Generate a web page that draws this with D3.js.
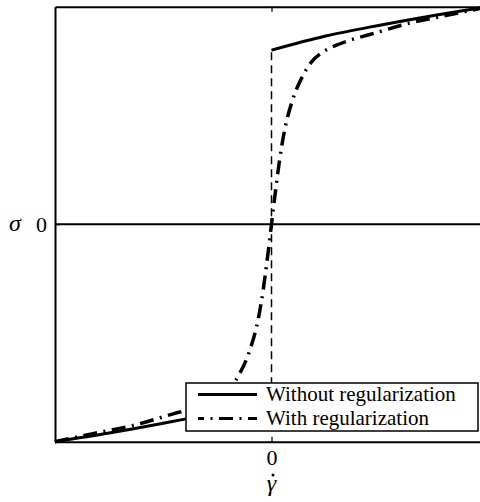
<!DOCTYPE html>
<html>
<head>
<meta charset="utf-8">
<script src="https://cdn.jsdelivr.net/npm/d3@7"></script>
<style>
  body { margin: 0; background: #fff; }
  svg { display: block; font-family: "Liberation Serif", "Times New Roman", serif; }
</style>
</head>
<body>
<div id="chart"></div>
<script>
// strain rate / stress
const rateReg = [-1, -0.81, -0.639, -0.454, -0.362, -0.30, -0.238, -0.185, -0.146, -0.097, -0.061, -0.038, -0.02, 0,
                 0.02, 0.038, 0.061, 0.097, 0.146, 0.185, 0.238, 0.30, 0.362, 0.454, 0.639, 0.81, 1]
const stressReg = [-1, -0.96, -0.925, -0.872, -0.846, -0.823, -0.792, -0.746, -0.685, -0.57, -0.435, -0.30, -0.165, 0,
                   0.165, 0.30, 0.435, 0.57, 0.685, 0.746, 0.792, 0.823, 0.846, 0.872, 0.925, 0.96, 1]

const rateNeg = [-1, -0.75, -0.5, -0.25, 0]
const stressNeg = [-1, -0.96, -0.915, -0.865, -0.80]
const ratePos = [0, 0.25, 0.5, 0.75, 1]
const stressPos = [0.80, 0.865, 0.915, 0.96, 1]
const jumpRate = [0, 0]
const jumpStress = [-0.80, 0.80]

const xTicks = [0]
const yTicks = [0]
const legendLabels = ["Without regularization", "With regularization"]

const width = 480, height = 502
const mLeft = 55, mRight = 488, mTop = 6.7, mBottom = 441.7
const dashDot = "14,6.5,2,6.5"

const svg = d3.select("#chart").append("svg")
  .attr("width", width)
  .attr("height", height)

const x = d3.scaleLinear().domain([-1, 1]).range([mLeft, mRight])
const y = d3.scaleLinear().domain([-1, 1]).range([mBottom, mTop])

const zip = (a, b) => a.map((v, i) => [v, b[i]])
const line = d3.line().x(d => x(d[0])).y(d => y(d[1]))
const smooth = d3.line().x(d => x(d[0])).y(d => y(d[1])).curve(d3.curveMonotoneX)

// zero line
svg.append("line")
  .attr("x1", x(-1)).attr("x2", x(1))
  .attr("y1", y(0)).attr("y2", y(0))
  .attr("stroke", "#000").attr("stroke-width", 2)

// without regularization
svg.append("path")
  .attr("d", line(zip(jumpRate, jumpStress)))
  .attr("fill", "none").attr("stroke", "#000")
  .attr("stroke-width", 1.5).attr("stroke-dasharray", "8,5")
;[zip(rateNeg, stressNeg), zip(ratePos, stressPos)].forEach(pts => {
  svg.append("path")
    .attr("d", smooth(pts))
    .attr("fill", "none").attr("stroke", "#000")
    .attr("stroke-width", 3)
})

// with regularization
svg.append("path")
  .attr("d", smooth(zip(rateReg, stressReg)))
  .attr("fill", "none").attr("stroke", "#000")
  .attr("stroke-width", 3.5).attr("stroke-dasharray", dashDot)

// axes: ticks inward, frame
const xAxisB = d3.axisBottom(x).tickValues(xTicks).tickSizeInner(-5).tickSizeOuter(0).tickPadding(8).tickFormat(d3.format("d"))
const xAxisT = d3.axisTop(x).tickValues(xTicks).tickSizeInner(-5).tickSizeOuter(0).tickFormat("")
const yAxisL = d3.axisLeft(y).tickValues(yTicks).tickSizeInner(-5).tickSizeOuter(0).tickPadding(8).tickFormat(d3.format("d"))

const gB = svg.append("g").attr("transform", `translate(0,${mBottom})`).call(xAxisB)
const gT = svg.append("g").attr("transform", `translate(0,${mTop})`).call(xAxisT)
const gL = svg.append("g").attr("transform", `translate(${mLeft},0)`).call(yAxisL)
;[gB, gT, gL].forEach(g => {
  g.attr("font-family", null)
  g.select(".domain").attr("stroke-width", 2)
  g.selectAll(".tick line").attr("stroke-width", 1.2)
  g.selectAll("text").attr("font-size", 22).attr("fill", "#000")
})

// axis labels
svg.append("text")
  .attr("x", x(0)).attr("y", 491)
  .attr("text-anchor", "middle")
  .attr("font-size", 24).attr("font-style", "italic")
  .text("\u03B3")
svg.append("circle")
  .attr("cx", x(0) + 1.5).attr("cy", 475)
  .attr("r", 1.5).attr("fill", "#000")
svg.append("text")
  .attr("x", 15).attr("y", y(0))
  .attr("dy", "0.3em")
  .attr("text-anchor", "middle")
  .attr("font-size", 24).attr("font-style", "italic")
  .text("\u03C3")

// legend
const lg = svg.append("g").attr("transform", "translate(186,383)")
lg.append("rect")
  .attr("width", 292).attr("height", 48)
  .attr("fill", "#fff").attr("stroke", "#000").attr("stroke-width", 1.5)
const dashes = [null, dashDot]
legendLabels.forEach((lab, i) => {
  const yy = 11.5 + i * 24
  lg.append("line")
    .attr("x1", 12).attr("x2", 71)
    .attr("y1", yy).attr("y2", yy)
    .attr("stroke", "#000").attr("stroke-width", 3)
    .attr("stroke-dasharray", dashes[i])
    .attr("stroke-dashoffset", i ? 8 : 0)
  lg.append("text")
    .attr("x", 80).attr("y", yy)
    .attr("dy", "0.33em")
    .attr("font-size", 21)
    .text(lab)
})
</script>
</body>
</html>
